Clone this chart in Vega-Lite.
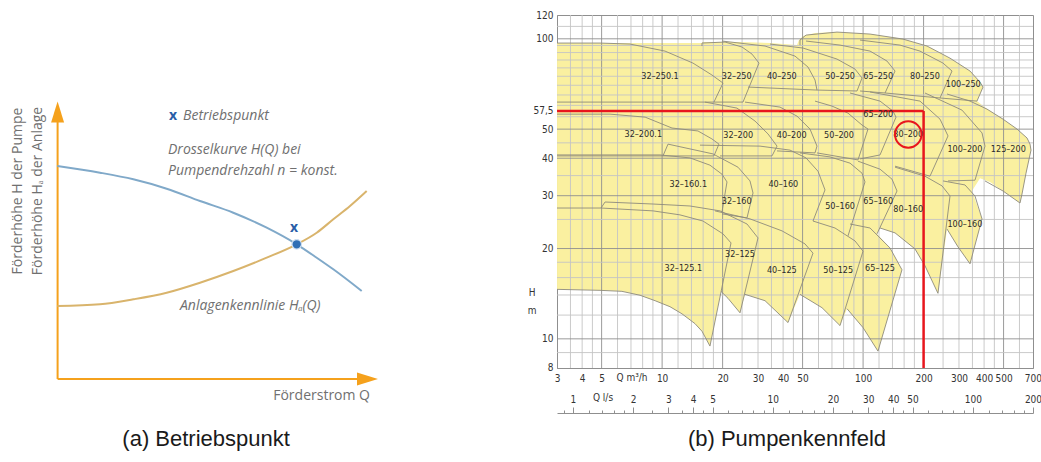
{
  "$schema": "https://vega.github.io/schema/vega-lite/v6.json",
  "padding": {"left": 0, "top": 9, "right": 0, "bottom": 0},
  "background": "white",
  "bounds": "flush",
  "spacing": 157,
  "config": {
    "view": {"stroke": null},
    "axis": {"labelFont": "'Liberation Sans Narrow', 'DejaVu Sans Condensed', Roboto, sans-serif", "labelColor": "#333333", "labelFontSize": 10, "domainColor": "#8f8f8f", "tickColor": "#8f8f8f"}
  },
  "datasets": {
    "laxes": [{"lx": 0, "lx2": 9.4, "ly": 0, "ly2": 0}, {"lx": 0, "lx2": 0, "ly": 0, "ly2": 9.3}],
    "larrows": [{"dir": "up", "lx": 0, "ly": 9.536}, {"dir": "right", "lx": 9.684, "ly": 0}],
    "lcurves": [
      {"curve": "H", "lx": -0.009, "ly": 7.607}, {"curve": "H", "lx": 1.325, "ly": 7.368}, {"curve": "H", "lx": 2.366, "ly": 7.132}, {"curve": "H", "lx": 3.409, "ly": 6.796}, {"curve": "H", "lx": 4.45, "ly": 6.357}, {"curve": "H", "lx": 5.491, "ly": 5.939}, {"curve": "H", "lx": 6.534, "ly": 5.404}, {"curve": "H", "lx": 7.472, "ly": 4.811}, {"curve": "H", "lx": 8.097, "ly": 4.332}, {"curve": "H", "lx": 8.616, "ly": 3.918}, {"curve": "H", "lx": 9.503, "ly": 3.143},
      {"curve": "HA", "lx": -0.009, "ly": 2.607}, {"curve": "HA", "lx": 1.325, "ly": 2.668}, {"curve": "HA", "lx": 2.366, "ly": 2.846}, {"curve": "HA", "lx": 3.409, "ly": 3.082}, {"curve": "HA", "lx": 4.45, "ly": 3.439}, {"curve": "HA", "lx": 5.491, "ly": 3.857}, {"curve": "HA", "lx": 6.534, "ly": 4.332}, {"curve": "HA", "lx": 7.472, "ly": 4.811}, {"curve": "HA", "lx": 8.097, "ly": 5.225}, {"curve": "HA", "lx": 8.616, "ly": 5.704}, {"curve": "HA", "lx": 9.138, "ly": 6.179}, {"curve": "HA", "lx": 9.659, "ly": 6.714}
    ],
    "lop": [{"lx": 7.472, "ly": 4.811}],
    "lmarks": [{"lx": 7.3875, "ly": 5.393}, {"lx": 3.606, "ly": 9.393}],
    "litalic": [
      {"lx": 3.919, "ly": 9.393, "txt": "Betriebspunkt"},
      {"lx": 3.45, "ly": 8.179, "txt": "Drosselkurve H(Q) bei"},
      {"lx": 3.45, "ly": 7.429, "txt": "Pumpendrehzahl n = konst."},
      {"lx": 3.825, "ly": 2.607, "txt": "Anlagenkennlinie Hₐ(Q)"}
    ],
    "lxtitle": [{"lx": 9.763, "ly": -0.607, "txt": "Förderstrom Q"}],
    "lytitle": [{"lx": -1.2375, "ly": 6.714, "txt": "Förderhöhe H der Pumpe"}, {"lx": -0.597, "ly": 6.714, "txt": "Förderhöhe Hₐ der Anlage"}],
    "lcap": [{"lx": 4.64, "ly": -2.143, "txt": "(a) Betriebspunkt"}],
    "field": [
      {"i": 1, "q": 3.0, "h": 96.8}, {"i": 2, "q": 4.91, "h": 96.8}, {"i": 3, "q": 15.79, "h": 96.8}, {"i": 4, "q": 15.79, "h": 97.55}, {"i": 5, "q": 24.41, "h": 97.55}, {"i": 6, "q": 34.43, "h": 96.8}, {"i": 7, "q": 46.9, "h": 95.3}, {"i": 8, "q": 47.98, "h": 99.05}, {"i": 9, "q": 50.24, "h": 102.1}, {"i": 10, "q": 57.64, "h": 104.5},
      {"i": 11, "q": 74.16, "h": 105.3}, {"i": 12, "q": 108.3, "h": 103.7}, {"i": 13, "q": 157.9, "h": 99.8}, {"i": 14, "q": 207.9, "h": 94.6}, {"i": 15, "q": 270.7, "h": 86.2}, {"i": 16, "q": 340.4, "h": 78.1}, {"i": 17, "q": 381.7, "h": 71.75}, {"i": 18, "q": 395.1, "h": 69.05}, {"i": 19, "q": 368.7, "h": 62.0}, {"i": 20, "q": 413.6, "h": 58.3},
      {"i": 21, "q": 496.8, "h": 53.98}, {"i": 22, "q": 583.2, "h": 50.03}, {"i": 23, "q": 654.0, "h": 46.72}, {"i": 24, "q": 676.9, "h": 44.56}, {"i": 25, "q": 684.7, "h": 42.56}, {"i": 26, "q": 646.6, "h": 35.65}, {"i": 27, "q": 617.6, "h": 30.39}, {"i": 28, "q": 603.6, "h": 28.36}, {"i": 29, "q": 496.8, "h": 31.1}, {"i": 30, "q": 428.0, "h": 33.34},
      {"i": 31, "q": 381.7, "h": 34.31}, {"i": 32, "q": 348.2, "h": 31.1}, {"i": 33, "q": 390.6, "h": 25.11}, {"i": 34, "q": 340.4, "h": 17.79}, {"i": 35, "q": 296.7, "h": 20.25}, {"i": 36, "q": 261.6, "h": 23.23}, {"i": 37, "q": 235.8, "h": 14.18}, {"i": 38, "q": 203.2, "h": 17.52}, {"i": 39, "q": 181.2, "h": 19.94}, {"i": 40, "q": 144.2, "h": 22.55},
      {"i": 41, "q": 121.4, "h": 23.41}, {"i": 42, "q": 117.3, "h": 22.38}, {"i": 43, "q": 136.1, "h": 20.09}, {"i": 44, "q": 156.1, "h": 16.99}, {"i": 45, "q": 118.6, "h": 9.1}, {"i": 46, "q": 99.92, "h": 10.9}, {"i": 47, "q": 83.18, "h": 12.6}, {"i": 48, "q": 76.77, "h": 11.07}, {"i": 49, "q": 62.46, "h": 12.7}, {"i": 50, "q": 48.54, "h": 14.07},
      {"i": 51, "q": 42.31, "h": 11.33}, {"i": 52, "q": 32.51, "h": 13.4}, {"i": 53, "q": 25.85, "h": 14.07}, {"i": 54, "q": 24.41, "h": 12.21}, {"i": 55, "q": 21.27, "h": 13.65}, {"i": 56, "q": 19.63, "h": 14.4}, {"i": 57, "q": 17.3, "h": 9.46}, {"i": 58, "q": 15.79, "h": 10.6}, {"i": 59, "q": 14.57, "h": 11.24}, {"i": 60, "q": 12.55, "h": 12.12},
      {"i": 61, "q": 10.94, "h": 12.8}, {"i": 62, "q": 9.23, "h": 13.4}, {"i": 63, "q": 7.77, "h": 13.97}, {"i": 64, "q": 6.31, "h": 14.4}, {"i": 65, "q": 4.91, "h": 14.51}, {"i": 66, "q": 3.0, "h": 14.62}
    ],
    "tiles": [
      {"id": "32-250.1", "i": 1, "q": 3.0, "h": 96.8}, {"id": "32-250.1", "i": 2, "q": 4.91, "h": 96.8}, {"id": "32-250.1", "i": 3, "q": 6.92, "h": 96.06}, {"id": "32-250.1", "i": 4, "q": 10.34, "h": 91.0}, {"id": "32-250.1", "i": 5, "q": 14.24, "h": 83.0}, {"id": "32-250.1", "i": 6, "q": 17.7, "h": 75.74}, {"id": "32-250.1", "i": 7, "q": 20.09, "h": 71.2}, {"id": "32-250.1", "i": 8, "q": 18.11, "h": 61.53}, {"id": "32-250.1", "i": 9, "q": 3.0, "h": 61.53},
      {"id": "32-250", "i": 1, "q": 15.79, "h": 94.6}, {"id": "32-250", "i": 2, "q": 15.79, "h": 96.8}, {"id": "32-250", "i": 3, "q": 20.56, "h": 97.55}, {"id": "32-250", "i": 4, "q": 24.98, "h": 93.88}, {"id": "32-250", "i": 5, "q": 28.01, "h": 88.93}, {"id": "32-250", "i": 6, "q": 30.34, "h": 83.0}, {"id": "32-250", "i": 7, "q": 25.26, "h": 61.53}, {"id": "32-250", "i": 8, "q": 18.11, "h": 61.53},
      {"id": "40-250", "i": 1, "q": 19.86, "h": 98.3}, {"id": "40-250", "i": 2, "q": 32.51, "h": 94.6}, {"id": "40-250", "i": 3, "q": 45.83, "h": 87.58}, {"id": "40-250", "i": 4, "q": 53.2, "h": 80.5}, {"id": "40-250", "i": 5, "q": 57.64, "h": 72.89}, {"id": "40-250", "i": 6, "q": 58.97, "h": 67.48}, {"id": "40-250", "i": 7, "q": 26.75, "h": 69.05},
      {"id": "50-250", "i": 1, "q": 34.43, "h": 96.06}, {"id": "50-250", "i": 2, "q": 50.24, "h": 93.16}, {"id": "50-250", "i": 3, "q": 74.16, "h": 85.59}, {"id": "50-250", "i": 4, "q": 91.16, "h": 79.28}, {"id": "50-250", "i": 5, "q": 98.78, "h": 74.02}, {"id": "50-250", "i": 6, "q": 93.27, "h": 67.0}, {"id": "50-250", "i": 7, "q": 58.97, "h": 67.48},
      {"id": "65-250", "i": 1, "q": 52.0, "h": 98.3}, {"id": "65-250", "i": 2, "q": 76.77, "h": 95.3}, {"id": "65-250", "i": 3, "q": 108.3, "h": 91.0}, {"id": "65-250", "i": 4, "q": 131.5, "h": 84.3}, {"id": "65-250", "i": 5, "q": 144.2, "h": 78.1}, {"id": "65-250", "i": 6, "q": 128.6, "h": 65.98}, {"id": "65-250", "i": 7, "q": 96.54, "h": 67.0},
      {"id": "80-250", "i": 1, "q": 96.54, "h": 99.05}, {"id": "80-250", "i": 2, "q": 152.6, "h": 95.3}, {"id": "80-250", "i": 3, "q": 191.9, "h": 91.0}, {"id": "80-250", "i": 4, "q": 249.8, "h": 83.0}, {"id": "80-250", "i": 5, "q": 277.0, "h": 78.1}, {"id": "80-250", "i": 6, "q": 241.4, "h": 63.5}, {"id": "80-250", "i": 7, "q": 128.6, "h": 65.98},
      {"id": "100-250", "i": 1, "q": 48.54, "h": 95.3}, {"id": "100-250", "i": 2, "q": 48.54, "h": 99.05}, {"id": "100-250", "i": 3, "q": 52.0, "h": 102.9}, {"id": "100-250", "i": 4, "q": 74.16, "h": 105.3}, {"id": "100-250", "i": 5, "q": 108.3, "h": 103.7}, {"id": "100-250", "i": 6, "q": 157.9, "h": 99.8}, {"id": "100-250", "i": 7, "q": 207.9, "h": 94.6}, {"id": "100-250", "i": 8, "q": 270.7, "h": 86.2}, {"id": "100-250", "i": 9, "q": 340.4, "h": 78.1}, {"id": "100-250", "i": 10, "q": 381.7, "h": 71.75}, {"id": "100-250", "i": 11, "q": 395.1, "h": 69.05}, {"id": "100-250", "i": 12, "q": 368.7, "h": 62.0}, {"id": "100-250", "i": 13, "q": 241.4, "h": 63.5},
      {"id": "32-200.1", "i": 1, "q": 3.0, "h": 56.09}, {"id": "32-200.1", "i": 2, "q": 5.506, "h": 56.09}, {"id": "32-200.1", "i": 3, "q": 8.23, "h": 54.82}, {"id": "32-200.1", "i": 4, "q": 11.2, "h": 50.42}, {"id": "32-200.1", "i": 5, "q": 15.08, "h": 49.3}, {"id": "32-200.1", "i": 6, "q": 17.7, "h": 46.37}, {"id": "32-200.1", "i": 7, "q": 19.18, "h": 44.56}, {"id": "32-200.1", "i": 8, "q": 18.11, "h": 40.71}, {"id": "32-200.1", "i": 9, "q": 3.0, "h": 40.71},
      {"id": "32-200", "i": 1, "q": 16.34, "h": 61.53}, {"id": "32-200", "i": 2, "q": 23.58, "h": 58.76}, {"id": "32-200", "i": 3, "q": 28.98, "h": 53.2}, {"id": "32-200", "i": 4, "q": 33.65, "h": 48.18}, {"id": "32-200", "i": 5, "q": 37.3, "h": 43.89}, {"id": "32-200", "i": 6, "q": 35.22, "h": 40.71}, {"id": "32-200", "i": 7, "q": 19.41, "h": 40.71},
      {"id": "40-200", "i": 1, "q": 25.85, "h": 61.53}, {"id": "40-200", "i": 2, "q": 38.6, "h": 59.21}, {"id": "40-200", "i": 3, "q": 46.9, "h": 55.24}, {"id": "40-200", "i": 4, "q": 54.43, "h": 50.03}, {"id": "40-200", "i": 5, "q": 58.97, "h": 43.89}, {"id": "40-200", "i": 6, "q": 57.64, "h": 41.66}, {"id": "40-200", "i": 7, "q": 37.3, "h": 42.3},
      {"id": "50-200", "i": 1, "q": 57.64, "h": 62.0}, {"id": "50-200", "i": 2, "q": 70.03, "h": 59.67}, {"id": "50-200", "i": 3, "q": 84.14, "h": 56.53}, {"id": "50-200", "i": 4, "q": 98.78, "h": 51.59}, {"id": "50-200", "i": 5, "q": 105.8, "h": 50.03}, {"id": "50-200", "i": 6, "q": 94.34, "h": 39.48}, {"id": "50-200", "i": 7, "q": 58.97, "h": 41.66},
      {"id": "65-200", "i": 1, "q": 86.09, "h": 65.98}, {"id": "65-200", "i": 2, "q": 121.4, "h": 62.0}, {"id": "65-200", "i": 3, "q": 140.9, "h": 57.4}, {"id": "65-200", "i": 4, "q": 145.8, "h": 54.82}, {"id": "65-200", "i": 5, "q": 121.4, "h": 41.02}, {"id": "65-200", "i": 6, "q": 96.54, "h": 39.78},
      {"id": "80-200", "i": 1, "q": 108.3, "h": 66.49}, {"id": "80-200", "i": 2, "q": 191.9, "h": 62.0}, {"id": "80-200", "i": 3, "q": 241.4, "h": 53.98}, {"id": "80-200", "i": 4, "q": 264.6, "h": 47.45}, {"id": "80-200", "i": 5, "q": 215.2, "h": 34.84}, {"id": "80-200", "i": 6, "q": 144.2, "h": 37.63},
      {"id": "100-200", "i": 1, "q": 203.2, "h": 65.98}, {"id": "100-200", "i": 2, "q": 310.5, "h": 57.86}, {"id": "100-200", "i": 3, "q": 390.6, "h": 48.55}, {"id": "100-200", "i": 4, "q": 404.2, "h": 43.89}, {"id": "100-200", "i": 5, "q": 360.4, "h": 33.79}, {"id": "100-200", "i": 6, "q": 264.6, "h": 33.6},
      {"id": "125-200", "i": 1, "q": 261.6, "h": 65.47}, {"id": "125-200", "i": 2, "q": 340.4, "h": 62.0}, {"id": "125-200", "i": 3, "q": 413.6, "h": 58.3}, {"id": "125-200", "i": 4, "q": 496.8, "h": 53.98}, {"id": "125-200", "i": 5, "q": 583.2, "h": 50.03}, {"id": "125-200", "i": 6, "q": 654.0, "h": 46.72}, {"id": "125-200", "i": 7, "q": 676.9, "h": 44.56}, {"id": "125-200", "i": 8, "q": 684.7, "h": 42.56}, {"id": "125-200", "i": 9, "q": 646.6, "h": 35.65}, {"id": "125-200", "i": 10, "q": 617.6, "h": 30.39}, {"id": "125-200", "i": 11, "q": 603.6, "h": 28.36}, {"id": "125-200", "i": 12, "q": 496.8, "h": 31.1}, {"id": "125-200", "i": 13, "q": 404.2, "h": 33.6},
      {"id": "32-160.1", "i": 1, "q": 3.0, "h": 41.02}, {"id": "32-160.1", "i": 2, "q": 9.76, "h": 41.02}, {"id": "32-160.1", "i": 3, "q": 13.76, "h": 40.09}, {"id": "32-160.1", "i": 4, "q": 17.3, "h": 37.92}, {"id": "32-160.1", "i": 5, "q": 19.86, "h": 35.37}, {"id": "32-160.1", "i": 6, "q": 21.03, "h": 33.34}, {"id": "32-160.1", "i": 7, "q": 19.86, "h": 26.5},
      {"id": "32-160", "i": 1, "q": 10.1, "h": 40.71}, {"id": "32-160", "i": 2, "q": 10.7, "h": 44.56}, {"id": "32-160", "i": 3, "q": 17.91, "h": 41.34}, {"id": "32-160", "i": 4, "q": 23.85, "h": 37.34}, {"id": "32-160", "i": 5, "q": 27.37, "h": 33.6}, {"id": "32-160", "i": 6, "q": 28.33, "h": 30.63}, {"id": "32-160", "i": 7, "q": 26.45, "h": 25.3}, {"id": "32-160", "i": 8, "q": 19.86, "h": 26.09},
      {"id": "40-160", "i": 1, "q": 15.43, "h": 44.22}, {"id": "40-160", "i": 2, "q": 30.7, "h": 43.89}, {"id": "40-160", "i": 3, "q": 43.29, "h": 42.56}, {"id": "40-160", "i": 4, "q": 52.0, "h": 40.09}, {"id": "40-160", "i": 5, "q": 59.65, "h": 36.2}, {"id": "40-160", "i": 6, "q": 64.64, "h": 31.36}, {"id": "40-160", "i": 7, "q": 56.33, "h": 24.7},
      {"id": "50-160", "i": 1, "q": 48.54, "h": 41.66}, {"id": "50-160", "i": 2, "q": 68.45, "h": 40.4}, {"id": "50-160", "i": 3, "q": 86.09, "h": 38.51}, {"id": "50-160", "i": 4, "q": 98.78, "h": 35.65}, {"id": "50-160", "i": 5, "q": 102.2, "h": 33.34}, {"id": "50-160", "i": 6, "q": 84.14, "h": 22.04},
      {"id": "65-160", "i": 1, "q": 94.34, "h": 39.1}, {"id": "65-160", "i": 2, "q": 121.4, "h": 36.77}, {"id": "65-160", "i": 3, "q": 139.3, "h": 34.05}, {"id": "65-160", "i": 4, "q": 147.5, "h": 31.1}, {"id": "65-160", "i": 5, "q": 117.3, "h": 22.38},
      {"id": "80-160", "i": 1, "q": 144.2, "h": 37.34}, {"id": "80-160", "i": 2, "q": 203.2, "h": 34.84}, {"id": "80-160", "i": 3, "q": 247.0, "h": 32.34}, {"id": "80-160", "i": 4, "q": 270.7, "h": 29.93}, {"id": "80-160", "i": 5, "q": 235.8, "h": 14.18}, {"id": "80-160", "i": 6, "q": 203.2, "h": 17.52}, {"id": "80-160", "i": 7, "q": 181.2, "h": 19.94}, {"id": "80-160", "i": 8, "q": 144.2, "h": 22.55}, {"id": "80-160", "i": 9, "q": 121.4, "h": 23.41},
      {"id": "100-160", "i": 1, "q": 249.8, "h": 33.6}, {"id": "100-160", "i": 2, "q": 321.4, "h": 32.58}, {"id": "100-160", "i": 3, "q": 360.4, "h": 29.93}, {"id": "100-160", "i": 4, "q": 390.6, "h": 25.11}, {"id": "100-160", "i": 5, "q": 340.4, "h": 17.79}, {"id": "100-160", "i": 6, "q": 296.7, "h": 20.25}, {"id": "100-160", "i": 7, "q": 261.6, "h": 23.23},
      {"id": "32-125.1", "i": 1, "q": 3.0, "h": 27.29}, {"id": "32-125.1", "i": 2, "q": 4.967, "h": 27.29}, {"id": "32-125.1", "i": 3, "q": 9.017, "h": 26.7}, {"id": "32-125.1", "i": 4, "q": 12.27, "h": 25.89}, {"id": "32-125.1", "i": 5, "q": 15.97, "h": 24.7}, {"id": "32-125.1", "i": 6, "q": 20.09, "h": 22.38}, {"id": "32-125.1", "i": 7, "q": 22.02, "h": 20.88}, {"id": "32-125.1", "i": 8, "q": 17.3, "h": 9.46}, {"id": "32-125.1", "i": 9, "q": 15.79, "h": 10.6}, {"id": "32-125.1", "i": 10, "q": 14.57, "h": 11.24}, {"id": "32-125.1", "i": 11, "q": 12.55, "h": 12.12}, {"id": "32-125.1", "i": 12, "q": 10.94, "h": 12.8}, {"id": "32-125.1", "i": 13, "q": 9.23, "h": 13.4}, {"id": "32-125.1", "i": 14, "q": 7.77, "h": 13.97}, {"id": "32-125.1", "i": 15, "q": 6.31, "h": 14.4}, {"id": "32-125.1", "i": 16, "q": 4.91, "h": 14.51}, {"id": "32-125.1", "i": 17, "q": 3.0, "h": 14.62},
      {"id": "32-125", "i": 1, "q": 4.967, "h": 27.29}, {"id": "32-125", "i": 2, "q": 5.2, "h": 28.58}, {"id": "32-125", "i": 3, "q": 9.017, "h": 28.14}, {"id": "32-125", "i": 4, "q": 13.76, "h": 27.72}, {"id": "32-125", "i": 5, "q": 19.41, "h": 26.7}, {"id": "32-125", "i": 6, "q": 26.45, "h": 24.14}, {"id": "32-125", "i": 7, "q": 30.0, "h": 21.7}, {"id": "32-125", "i": 8, "q": 24.41, "h": 12.21}, {"id": "32-125", "i": 9, "q": 21.27, "h": 13.65}, {"id": "32-125", "i": 10, "q": 19.63, "h": 14.4},
      {"id": "40-125", "i": 1, "q": 18.32, "h": 26.7}, {"id": "40-125", "i": 2, "q": 27.37, "h": 25.11}, {"id": "40-125", "i": 3, "q": 39.5, "h": 22.9}, {"id": "40-125", "i": 4, "q": 51.4, "h": 20.72}, {"id": "40-125", "i": 5, "q": 56.33, "h": 19.3}, {"id": "40-125", "i": 6, "q": 42.31, "h": 11.33}, {"id": "40-125", "i": 7, "q": 32.51, "h": 13.4}, {"id": "40-125", "i": 8, "q": 25.85, "h": 14.07},
      {"id": "50-125", "i": 1, "q": 56.33, "h": 24.7}, {"id": "50-125", "i": 2, "q": 72.48, "h": 23.41}, {"id": "50-125", "i": 3, "q": 91.16, "h": 21.2}, {"id": "50-125", "i": 4, "q": 99.92, "h": 19.6}, {"id": "50-125", "i": 5, "q": 76.77, "h": 11.07}, {"id": "50-125", "i": 6, "q": 62.46, "h": 12.7}, {"id": "50-125", "i": 7, "q": 48.54, "h": 14.07},
      {"id": "65-125", "i": 1, "q": 86.09, "h": 24.14}, {"id": "65-125", "i": 2, "q": 108.3, "h": 23.41}, {"id": "65-125", "i": 3, "q": 136.1, "h": 20.09}, {"id": "65-125", "i": 4, "q": 156.1, "h": 16.99}, {"id": "65-125", "i": 5, "q": 118.6, "h": 9.1}, {"id": "65-125", "i": 6, "q": 99.92, "h": 10.9}, {"id": "65-125", "i": 7, "q": 83.18, "h": 12.6}
    ],
    "gridq": [
      {"q": 5, "major": true}, {"q": 10, "major": true}, {"q": 20, "major": true}, {"q": 50, "major": true}, {"q": 100, "major": true}, {"q": 200, "major": true}, {"q": 500, "major": true},
      {"q": 3.5, "major": false}, {"q": 4, "major": false}, {"q": 4.5, "major": false}, {"q": 6, "major": false}, {"q": 7, "major": false}, {"q": 8, "major": false}, {"q": 9, "major": false}, {"q": 12, "major": false}, {"q": 14, "major": false}, {"q": 16, "major": false}, {"q": 18, "major": false}, {"q": 25, "major": false}, {"q": 30, "major": false}, {"q": 35, "major": false}, {"q": 40, "major": false}, {"q": 45, "major": false}, {"q": 60, "major": false}, {"q": 70, "major": false}, {"q": 80, "major": false}, {"q": 90, "major": false}, {"q": 120, "major": false}, {"q": 140, "major": false}, {"q": 160, "major": false}, {"q": 180, "major": false}, {"q": 250, "major": false}, {"q": 300, "major": false}, {"q": 350, "major": false}, {"q": 400, "major": false}, {"q": 450, "major": false}, {"q": 600, "major": false}
    ],
    "gridh": [
      {"h": 10, "major": true}, {"h": 20, "major": true}, {"h": 30, "major": true}, {"h": 40, "major": true}, {"h": 50, "major": true}, {"h": 100, "major": true},
      {"h": 9, "major": false}, {"h": 12, "major": false}, {"h": 14, "major": false}, {"h": 16, "major": false}, {"h": 18, "major": false}, {"h": 25, "major": false}, {"h": 35, "major": false}, {"h": 45, "major": false}, {"h": 55, "major": false}, {"h": 60, "major": false}, {"h": 65, "major": false}, {"h": 70, "major": false}, {"h": 75, "major": false}, {"h": 80, "major": false}, {"h": 85, "major": false}, {"h": 90, "major": false}, {"h": 95, "major": false}, {"h": 110, "major": false}
    ],
    "red": [{"q": 3, "q2": 200, "h": 57.5, "h2": 57.5}, {"q": 200, "q2": 200, "h": 8, "h2": 57.5}],
    "labels": [
      {"name": "32–250.1", "q": 9.76, "h": 75.2}, {"name": "32–250", "q": 23.5, "h": 75.2}, {"name": "40–250", "q": 39.4, "h": 75.2}, {"name": "50–250", "q": 76.8, "h": 75.2}, {"name": "65–250", "q": 119, "h": 75.2}, {"name": "80–250", "q": 203, "h": 75.2}, {"name": "100–250", "q": 315, "h": 70.5},
      {"name": "32–200.1", "q": 8.06, "h": 48.0}, {"name": "32–200", "q": 23.9, "h": 47.7}, {"name": "40–200", "q": 44.1, "h": 47.9}, {"name": "50–200", "q": 75.9, "h": 47.9}, {"name": "65–200", "q": 119, "h": 56.0}, {"name": "80–200", "q": 167.8, "h": 48.0}, {"name": "100–200", "q": 321, "h": 42.8}, {"name": "125–200", "q": 528, "h": 42.8},
      {"name": "32–160.1", "q": 13.5, "h": 32.9}, {"name": "32–160", "q": 23.5, "h": 28.8}, {"name": "40–160", "q": 40.1, "h": 32.9}, {"name": "50–160", "q": 76.8, "h": 27.7}, {"name": "65–160", "q": 119, "h": 28.9}, {"name": "80–160", "q": 167.8, "h": 27.0}, {"name": "100–160", "q": 321, "h": 24.1},
      {"name": "32–125.1", "q": 12.75, "h": 17.2}, {"name": "32–125", "q": 24.4, "h": 19.2}, {"name": "40–125", "q": 39.4, "h": 17.0}, {"name": "50–125", "q": 75.2, "h": 17.0}, {"name": "65–125", "q": 121.4, "h": 17.2}
    ],
    "circle": [{"q": 167.8, "h": 48.0}],
    "rtext": [{"q": 2.253, "h": 14.2, "txt": "H"}, {"q": 2.253, "h": 12.37, "txt": "m"}, {"q": 7.08, "h": 7.4, "txt": "Q m³/h"}, {"q": 5.08, "h": 6.35, "txt": "Q l/s"}],
    "rcap": [{"q": 41.8, "h": 4.63, "txt": "(b) Pumpenkennfeld"}],
    "ls": [{"qls": 1}, {"qls": 200}]
  },
  "hconcat": [
    {
      "width": 400,
      "height": 448,
      "layer": [
        {
          "data": {"name": "laxes"},
          "mark": {"type": "rule", "color": "#f5a11c", "strokeWidth": 2},
          "encoding": {
            "x": {"field": "lx", "type": "quantitative", "scale": {"domain": [-1.8, 10.7], "nice": false, "zero": false}, "axis": null},
            "x2": {"field": "lx2"},
            "y": {"field": "ly", "type": "quantitative", "scale": {"domain": [-3, 13], "nice": false, "zero": false}, "axis": null},
            "y2": {"field": "ly2"}
          }
        },
        {
          "data": {"name": "larrows"},
          "mark": {"type": "point", "filled": true, "color": "#f5a11c", "size": 441, "opacity": 1},
          "encoding": {
            "x": {"field": "lx", "type": "quantitative", "scale": {"domain": [-1.8, 10.7], "nice": false, "zero": false}, "axis": null},
            "y": {"field": "ly", "type": "quantitative", "scale": {"domain": [-3, 13], "nice": false, "zero": false}, "axis": null},
            "shape": {"field": "dir", "type": "nominal", "scale": {"domain": ["up", "right"], "range": ["M0,-1L0.62,1L-0.62,1Z", "M1,0L-1,0.62L-1,-0.62Z"]}, "legend": null}
          }
        },
        {
          "data": {"name": "lcurves"},
          "mark": {"type": "line", "strokeWidth": 2, "interpolate": "monotone"},
          "encoding": {
            "x": {"field": "lx", "type": "quantitative", "scale": {"domain": [-1.8, 10.7], "nice": false, "zero": false}, "axis": null},
            "y": {"field": "ly", "type": "quantitative", "scale": {"domain": [-3, 13], "nice": false, "zero": false}, "axis": null},
            "color": {"field": "curve", "type": "nominal", "scale": {"domain": ["H", "HA"], "range": ["#80a9c9", "#d9b46c"]}, "legend": null}
          }
        },
        {
          "data": {"name": "lop"},
          "mark": {"type": "point", "shape": "circle", "filled": true, "fill": "#2f6fb5", "stroke": "#cfe0f2", "strokeWidth": 1.2, "size": 90, "opacity": 1},
          "encoding": {
            "x": {"field": "lx", "type": "quantitative", "scale": {"domain": [-1.8, 10.7], "nice": false, "zero": false}, "axis": null},
            "y": {"field": "ly", "type": "quantitative", "scale": {"domain": [-3, 13], "nice": false, "zero": false}, "axis": null}
          }
        },
        {
          "data": {"name": "lmarks"},
          "mark": {"type": "text", "text": "x", "font": "Open Sans", "fontWeight": "bold", "fontSize": 14, "color": "#2a5ea8", "align": "center", "baseline": "middle"},
          "encoding": {
            "x": {"field": "lx", "type": "quantitative", "scale": {"domain": [-1.8, 10.7], "nice": false, "zero": false}, "axis": null},
            "y": {"field": "ly", "type": "quantitative", "scale": {"domain": [-3, 13], "nice": false, "zero": false}, "axis": null}
          }
        },
        {
          "data": {"name": "litalic"},
          "mark": {"type": "text", "font": "Open Sans", "fontStyle": "italic", "fontSize": 14, "color": "#707070", "align": "left", "baseline": "middle"},
          "encoding": {
            "x": {"field": "lx", "type": "quantitative", "scale": {"domain": [-1.8, 10.7], "nice": false, "zero": false}, "axis": null},
            "y": {"field": "ly", "type": "quantitative", "scale": {"domain": [-3, 13], "nice": false, "zero": false}, "axis": null},
            "text": {"field": "txt"}
          }
        },
        {
          "data": {"name": "lxtitle"},
          "mark": {"type": "text", "font": "Open Sans", "fontSize": 14, "color": "#707070", "align": "right", "baseline": "middle"},
          "encoding": {
            "x": {"field": "lx", "type": "quantitative", "scale": {"domain": [-1.8, 10.7], "nice": false, "zero": false}, "axis": null},
            "y": {"field": "ly", "type": "quantitative", "scale": {"domain": [-3, 13], "nice": false, "zero": false}, "axis": null},
            "text": {"field": "txt"}
          }
        },
        {
          "data": {"name": "lytitle"},
          "mark": {"type": "text", "font": "Open Sans", "fontSize": 14, "color": "#707070", "align": "center", "baseline": "middle", "angle": 270},
          "encoding": {
            "x": {"field": "lx", "type": "quantitative", "scale": {"domain": [-1.8, 10.7], "nice": false, "zero": false}, "axis": null},
            "y": {"field": "ly", "type": "quantitative", "scale": {"domain": [-3, 13], "nice": false, "zero": false}, "axis": null},
            "text": {"field": "txt"}
          }
        },
        {
          "data": {"name": "lcap"},
          "mark": {"type": "text", "font": "Liberation Sans", "fontSize": 22, "color": "#1a1a1a", "align": "center", "baseline": "middle"},
          "encoding": {
            "x": {"field": "lx", "type": "quantitative", "scale": {"domain": [-1.8, 10.7], "nice": false, "zero": false}, "axis": null},
            "y": {"field": "ly", "type": "quantitative", "scale": {"domain": [-3, 13], "nice": false, "zero": false}, "axis": null},
            "text": {"field": "txt"}
          }
        }
      ]
    },
    {
      "width": 476,
      "height": 353,
      "view": {"stroke": "#8f8f8f", "strokeWidth": 1},
      "resolve": {"scale": {"x": "independent"}},
      "layer": [
        {
          "layer": [
            {
              "data": {"name": "field"},
              "mark": {"type": "line", "fill": "#faf0a0", "strokeOpacity": 0, "interpolate": "linear"},
              "encoding": {
                "x": {"field": "q", "type": "quantitative", "scale": {"type": "log", "domain": [2.999, 700.5], "nice": false},
                  "axis": {"values": [3, 4, 5, 10, 20, 30, 40, 50, 100, 200, 300, 400, 500, 700], "format": "d", "grid": false, "ticks": false, "labelPadding": 5, "labelFlush": false, "labelOverlap": false, "title": null}},
                "y": {"field": "h", "type": "quantitative", "scale": {"type": "log", "domain": [7.995, 120.05], "nice": false},
                  "axis": {"values": [8, 10, 20, 30, 40, 50, 57.5, 100, 120], "labelExpr": "datum.value == 57.5 ? '57,5' : format(datum.value, 'd')", "grid": false, "ticks": false, "labelPadding": 4, "labelFlush": false, "labelOverlap": false, "title": null}},
                "order": {"field": "i", "type": "quantitative"}
              }
            },
            {
              "data": {"name": "gridq"},
              "mark": {"type": "rule", "strokeWidth": 0.9},
              "encoding": {
                "x": {"field": "q", "type": "quantitative", "scale": {"type": "log", "domain": [2.999, 700.5], "nice": false}},
                "color": {"condition": {"test": "datum.major", "value": "#8e8e8e"}, "value": "#c4c4c4"}
              }
            },
            {
              "data": {"name": "gridh"},
              "mark": {"type": "rule", "strokeWidth": 0.9},
              "encoding": {
                "y": {"field": "h", "type": "quantitative", "scale": {"type": "log", "domain": [7.995, 120.05], "nice": false}},
                "color": {"condition": {"test": "datum.major", "value": "#8e8e8e"}, "value": "#c4c4c4"}
              }
            },
            {
              "data": {"name": "tiles"},
              "mark": {"type": "line", "color": "#8d8a7c", "strokeWidth": 0.9, "interpolate": "linear"},
              "encoding": {
                "x": {"field": "q", "type": "quantitative", "scale": {"type": "log", "domain": [2.999, 700.5], "nice": false}},
                "y": {"field": "h", "type": "quantitative", "scale": {"type": "log", "domain": [7.995, 120.05], "nice": false}},
                "detail": {"field": "id", "type": "nominal"},
                "order": {"field": "i", "type": "quantitative"}
              }
            },
            {
              "data": {"name": "red"},
              "mark": {"type": "rule", "color": "#e8161d", "strokeWidth": 2.5},
              "encoding": {
                "x": {"field": "q", "type": "quantitative", "scale": {"type": "log", "domain": [2.999, 700.5], "nice": false}},
                "x2": {"field": "q2"},
                "y": {"field": "h", "type": "quantitative", "scale": {"type": "log", "domain": [7.995, 120.05], "nice": false}},
                "y2": {"field": "h2"}
              }
            },
            {
              "data": {"name": "labels"},
              "mark": {"type": "text", "font": "'Liberation Sans Narrow', 'DejaVu Sans Condensed', Roboto, sans-serif", "fontSize": 9, "color": "#2a2a2a", "align": "center", "baseline": "middle"},
              "encoding": {
                "x": {"field": "q", "type": "quantitative", "scale": {"type": "log", "domain": [2.999, 700.5], "nice": false}},
                "y": {"field": "h", "type": "quantitative", "scale": {"type": "log", "domain": [7.995, 120.05], "nice": false}},
                "text": {"field": "name"}
              }
            },
            {
              "data": {"name": "circle"},
              "mark": {"type": "point", "shape": "circle", "filled": false, "stroke": "#e8161d", "strokeWidth": 2, "size": 700, "opacity": 1},
              "encoding": {
                "x": {"field": "q", "type": "quantitative", "scale": {"type": "log", "domain": [2.999, 700.5], "nice": false}},
                "y": {"field": "h", "type": "quantitative", "scale": {"type": "log", "domain": [7.995, 120.05], "nice": false}}
              }
            },
            {
              "data": {"name": "rtext"},
              "mark": {"type": "text", "font": "'Liberation Sans Narrow', 'DejaVu Sans Condensed', Roboto, sans-serif", "fontSize": 10, "color": "#333333", "align": "center", "baseline": "middle"},
              "encoding": {
                "x": {"field": "q", "type": "quantitative", "scale": {"type": "log", "domain": [2.999, 700.5], "nice": false}},
                "y": {"field": "h", "type": "quantitative", "scale": {"type": "log", "domain": [7.995, 120.05], "nice": false}},
                "text": {"field": "txt"}
              }
            },
            {
              "data": {"name": "rcap"},
              "mark": {"type": "text", "font": "Liberation Sans", "fontSize": 22, "color": "#1a1a1a", "align": "center", "baseline": "middle"},
              "encoding": {
                "x": {"field": "q", "type": "quantitative", "scale": {"type": "log", "domain": [2.999, 700.5], "nice": false}},
                "y": {"field": "h", "type": "quantitative", "scale": {"type": "log", "domain": [7.995, 120.05], "nice": false}},
                "text": {"field": "txt"}
              }
            }
          ]
        },
        {
          "data": {"name": "ls"},
          "mark": {"type": "rule", "strokeOpacity": 0},
          "encoding": {
            "x": {"field": "qls", "type": "quantitative", "scale": {"type": "log", "domain": [0.8333, 200.1], "nice": false},
              "axis": {"orient": "top", "offset": -398, "title": null, "grid": false, "labelFlush": false, "labelOverlap": false, "labelPadding": 3,
                "values": [0.9, 1, 1.2, 1.4, 1.6, 1.8, 2, 2.5, 3, 3.5, 4, 4.5, 5, 6, 7, 8, 9, 10, 12, 14, 16, 18, 20, 25, 30, 35, 40, 45, 50, 60, 70, 80, 90, 100, 120, 140, 160, 180, 200],
                "labelExpr": "indexof([1, 2, 3, 4, 5, 10, 20, 30, 40, 50, 100, 200], datum.value) >= 0 ? format(datum.value, 'd') : ''",
                "tickSize": {"condition": {"test": "indexof([1, 2, 3, 4, 5, 10, 20, 30, 40, 50, 100, 200], datum.value) >= 0", "value": 6}, "value": 3}}}
          }
        }
      ]
    }
  ]
}
